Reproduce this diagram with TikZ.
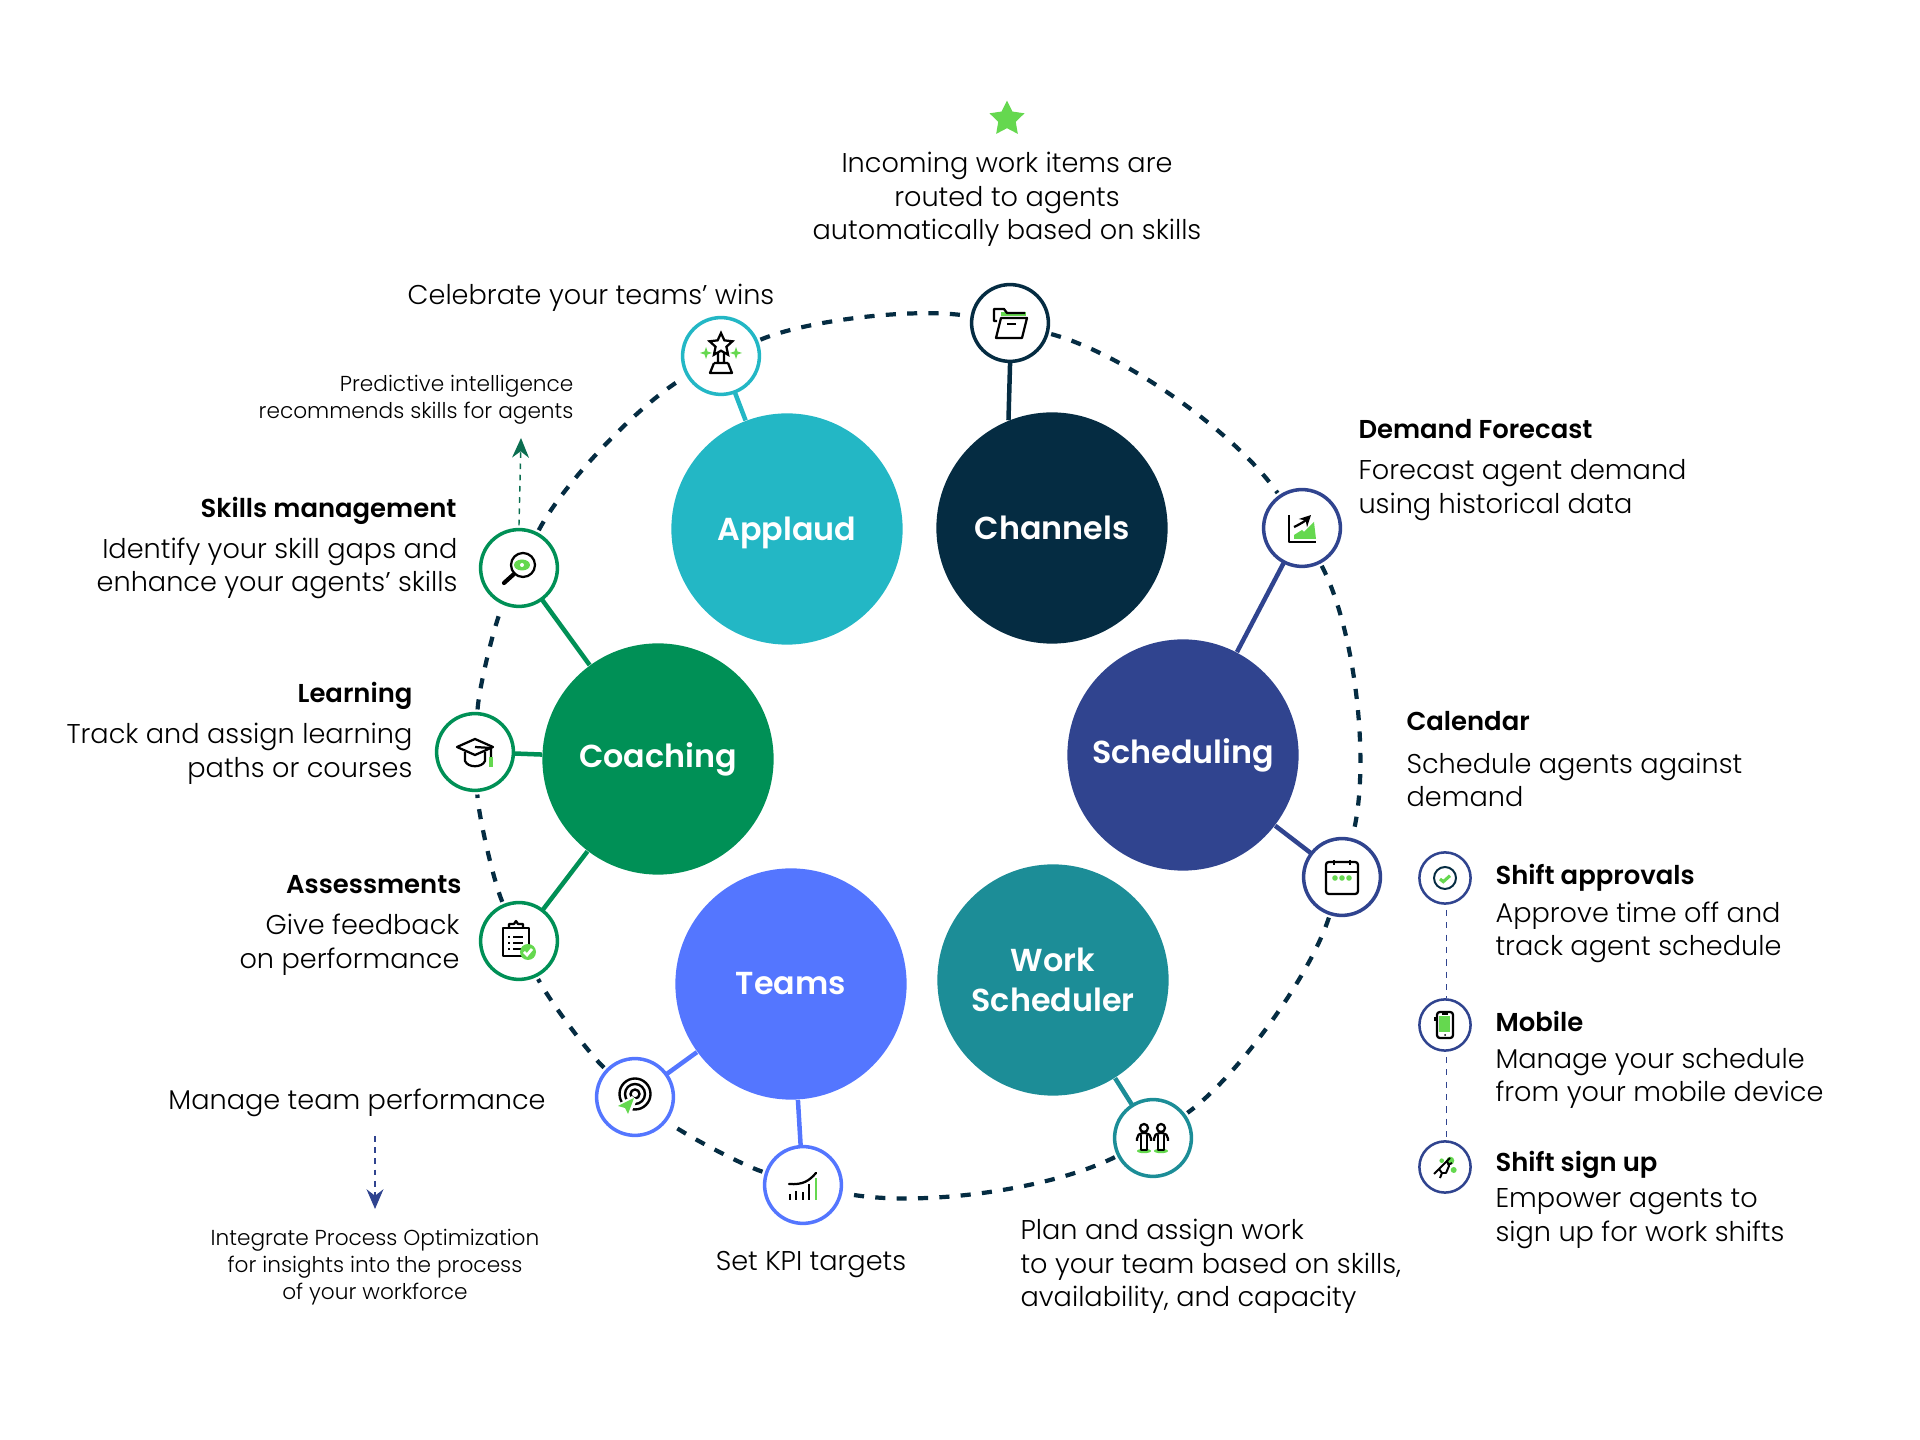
\documentclass[tikz,border=0pt]{standalone}
\usepackage{fontspec}
\setmainfont{Poppins Light}[BoldFont={Poppins SemiBold}]
\newfontfamily\headfont{Poppins SemiBold}
\usetikzlibrary{arrows.meta,shapes.geometric}
\definecolor{navyc}{HTML}{052C42}
\definecolor{tealc}{HTML}{23B7C5}
\definecolor{schedc}{HTML}{30448F}
\definecolor{workc}{HTML}{1C8D97}
\definecolor{teamc}{HTML}{5476FF}
\definecolor{coachc}{HTML}{009056}
\definecolor{leafc}{HTML}{65D84F}
\definecolor{arrowc}{HTML}{0B6E50}
\begin{document}
\begin{tikzpicture}[
    x=.0125cm, y=-.0125cm,
    hub/.style={circle, fill=#1, minimum size=2.89cm, inner sep=0pt, text=white, align=center,
        font=\headfont\fontsize{11.3}{14.3}\selectfont},
    spot/.style={circle, draw=#1, line width=1.25pt, fill=white, minimum size=.96cm, inner sep=0pt, outer sep=1.5pt},
    tiny/.style={circle, draw=schedc, line width=.9pt, fill=white, minimum size=.64cm, inner sep=0pt},
    spoke/.style={draw=#1, line width=1.6pt, shorten >=-1.5pt},
    ringdash/.style={draw=navyc, line width=1.5pt, dash pattern=on 3.6pt off 4pt},
    tinydash/.style={draw=schedc, line width=.55pt, dash pattern=on 2.2pt off 2.2pt},
    body/.style={font=\fontsize{9.65}{11.9}\selectfont, inner sep=0pt},
    small/.style={font=\fontsize{7.7}{9.55}\selectfont, inner sep=0pt},
    head/.style={font=\bfseries\fontsize{9.2}{11.9}\selectfont, inner sep=0pt},
    ink/.style={draw=black, line width=.8pt, line join=round},
    leaf/.style={fill=leafc, draw=none},
    icon/.style={shift={(#1)}}
]
\useasboundingbox (0,0) rectangle (1920,1440);

% Large circles
\node[hub=tealc, text depth=0pt] (applaud) at (787,529) {Applaud};
\node[hub=navyc] (channels) at (1052,528) {Channels};
\node[hub=schedc] (scheduling) at (1183,755) {Scheduling};
\node[hub=workc] (worksched) at (1053,980) {Work\\Scheduler};
\node[hub=teamc] (teams) at (791,984) {Teams};
\node[hub=coachc] (coaching) at (658,759) {Coaching};

% Ring nodes
\node[spot=navyc] (nchan) at (1010,323) {};
\node[spot=schedc] (nfore) at (1302,528) {};
\node[spot=schedc] (ncal) at (1342,877) {};
\node[spot=workc] (nwork) at (1153,1138) {};
\node[spot=teamc] (nkpi) at (803,1185) {};
\node[spot=teamc] (nteam) at (635,1097) {};
\node[spot=coachc] (nass) at (519,941) {};
\node[spot=coachc] (nlearn) at (475,752) {};
\node[spot=coachc] (nskill) at (519,568) {};
\node[spot=tealc] (nceleb) at (721,356) {};

% Legend nodes
\node[tiny] (nappr) at (1445,878) {};
\node[tiny] (nmob) at (1445,1025) {};
\node[tiny] (nsign) at (1445,1167) {};

% Ring
\draw[ringdash] (nchan) to[bend left=20, looseness=.69] (nfore);
\draw[ringdash] (nfore) to[bend left=21, looseness=.69] (ncal);
\draw[ringdash] (ncal) to[bend left=18, looseness=.66] (nwork);
\draw[ringdash] (nwork) to[bend left=19, looseness=.69] (nkpi);
\draw[ringdash] (nkpi) to[bend left=9.5, looseness=.5] (nteam);
\draw[ringdash] (nteam) to[bend left=10, looseness=.5] (nass);
\draw[ringdash] (nass) to[bend left=10, looseness=.5] (nlearn);
\draw[ringdash] (nlearn) to[bend left=10, looseness=.5] (nskill);
\draw[ringdash] (nskill) to[bend left=16, looseness=.64] (nceleb);
\draw[ringdash] (nceleb) to[bend left=16, looseness=.64] (nchan);

% Spokes
\draw[spoke=tealc] (applaud) -- (nceleb);
\draw[spoke=navyc] (channels.112) -- (nchan.south);
\draw[spoke=schedc] (scheduling) -- (nfore);
\draw[spoke=schedc] (scheduling) -- (ncal);
\draw[spoke=workc] (worksched) -- (nwork);
\draw[spoke=teamc] (teams) -- (nkpi);
\draw[spoke=teamc] (teams) -- (nteam);
\draw[spoke=coachc] (coaching) -- (nskill);
\draw[spoke=coachc] (coaching) -- (nlearn);
\draw[spoke=coachc] (coaching) -- (nass);

% Legend links
\draw[tinydash] ([xshift=.6pt]nappr.south) ++(0,5) -- ([xshift=.6pt]nmob.north);
\draw[tinydash] ([xshift=.6pt]nmob.south) ++(0,5) -- ([xshift=.6pt]nsign.north);

% Side arrows
\coordinate (upend) at (521,438);
\coordinate (downstart) at (375,1136);
\coordinate (downend) at (375,1209);
\draw[arrowc, line width=.5pt, dash pattern=on 2pt off 2pt, -{Stealth[length=7pt,width=6pt]}] (nskill.north) -- (upend);
\draw[schedc, line width=.5pt, dash pattern=on 2pt off 2pt, -{Stealth[length=7pt,width=6pt]}] (downstart) -- (downend);

% Star and texts
\node[star, star points=5, star point ratio=2, fill=leafc, minimum size=.46cm, inner sep=0pt] (topstar) at (1007,119) {};
\node[body, align=center] (tchan) at (1007,199.5) {Incoming work items are\\routed to agents\\automatically based on skills};
\node[body] (tceleb) at (591,297.5) {Celebrate your teams’ wins};
\node[small, align=right, anchor=east] (tpred) at (574,399.5) {Predictive intelligence\\recommends skills for agents};
\node[head, anchor=east] (hskill) at (457,511) {Skills management};
\node[body, align=right, anchor=east] (tskill) at (458,568.5) {Identify your skill gaps and\\enhance your agents’ skills};
\node[head, anchor=east] (hlearn) at (413,696) {Learning};
\node[body, align=right, anchor=east] (tlearn) at (413,754) {Track and assign learning\\paths or courses};
\node[head, anchor=east] (hass) at (462,885) {Assessments};
\node[body, align=right, anchor=east] (tass) at (460,944.5) {Give feedback\\on performance};
\node[body] (tteam) at (357,1102.5) {Manage team performance};
\node[small, align=center] (tproc) at (375,1267.5) {Integrate Process Optimization\\for insights into the process\\of your workforce};
\node[body] (tkpi) at (811,1264.5) {Set KPI targets};
\node[body, align=left, anchor=west] (twork) at (1020,1266.5) {Plan and assign work\\to your team based on skills,\\availability, and capacity};
\node[head, anchor=west] (hfore) at (1358,429) {Demand Forecast};
\node[body, align=left, anchor=west] (tfore) at (1358,490) {Forecast agent demand\\using historical data};
\node[head, anchor=west] (hcal) at (1406,721) {Calendar};
\node[body, align=left, anchor=west] (tcal) at (1406,780) {Schedule agents against\\demand};
\node[head, anchor=west] (happr) at (1495,877.5) {Shift approvals};
\node[body, align=left, anchor=west] (tappr) at (1495,932.5) {Approve time off and\\track agent schedule};
\node[head, anchor=west] (hmob) at (1495,1021) {Mobile};
\node[body, align=left, anchor=west] (tmob) at (1495,1078.5) {Manage your schedule\\from your mobile device};
\node[head, anchor=west] (hsign) at (1495,1164.5) {Shift sign up};
\node[body, align=left, anchor=west] (tsign) at (1495,1218.5) {Empower agents to\\sign up for work shifts};

% Folder
\begin{scope}[icon=nchan]
\fill[leaf] (-9,-11) rectangle (16,-7);
\draw[ink] (-13,-2) -- (-16,-2) -- (-16,-14) -- (-6,-14) -- (-3,-10) -- (15,-10);
\draw[ink] (-14,15) -- (-9,-5) -- (17,-5) -- (12,15) -- cycle;
\draw[ink] (-3,1) -- (6,1);
\end{scope}

% Chart with arrow
\begin{scope}[icon=nfore]
\fill[leaf] (-8,11) -- (-8,7) -- (0,2) -- (2,4) -- (12,-6) -- (14,11) -- cycle;
\draw[ink] (-13,-13) -- (-13,14) -- (14,14);
\draw[ink, -{Stealth[length=4pt,width=4pt]}] (-8,-1) to[bend right=10] (9,-13);
\end{scope}

% Calendar
\begin{scope}[icon=ncal]
\draw[ink, rounded corners=1pt] (-16,-15) rectangle (16,17);
\draw[ink] (-16,-5) -- (16,-5) (-8,-17) -- (-8,-12) (8,-17) -- (8,-12);
\fill[leaf] (-7,1) circle[radius=2.8] (0,1) circle[radius=2.8] (7,1) circle[radius=2.8];
\end{scope}

% People
\begin{scope}[icon=nwork]
\fill[leaf] (-9,13) ellipse[x radius=7, y radius=2.2] (8,13) ellipse[x radius=7, y radius=2.2];
\foreach \px in {-9,8} {
  \draw[ink] (\px,-10) circle[radius=4];
  \draw[ink, rounded corners=2pt] (\px-7,3) -- (\px-7,-5) -- (\px+7,-5) -- (\px+7,3);
  \draw[ink] (\px-3,-3) -- (\px-3,12) -- (\px+3,12) -- (\px+3,-3);
}
\end{scope}

% Bars with curve
\begin{scope}[icon=nkpi]
\draw[ink] (-13,15) -- (-13,9) (-7,15) -- (-7,6) (0,15) -- (0,7) (6,15) -- (6,-1);
\fill[leaf] (11.5,-7) rectangle (14,15);
\draw[ink, line cap=round] (-14,-1) .. controls (0,0) and (6,-4) .. (13,-12);
\end{scope}

% Target
\begin{scope}[icon=nteam]
\draw[black, line width=.85pt] (0,-3) circle[radius=15.5] (0,-3) circle[radius=10] (0,-3) circle[radius=4.5];
\fill[white] (-3,-1) -- (-20,9) -- (-6,20) -- (2,3) -- cycle;
\fill[leaf] (-1,1) -- (-17,9) -- (-10,11) -- (-7,17) -- cycle;
\end{scope}

% Clipboard
\begin{scope}[icon=nass]
\draw[ink] (-16,-13) rectangle (10,15);
\draw[ink] (-10,-13) -- (-10,-17) -- (-5,-17) -- (-3,-20) -- (-1,-17) -- (4,-17) -- (4,-13);
\foreach \py in {-4,2,8} \draw[ink] (-11,\py) -- (-9,\py) (-6,\py) -- (4,\py);
\fill[leaf] (9,11) circle[radius=8];
\draw[white, line width=1pt] (5,11) -- (8,14) -- (13,8);
\end{scope}

% Graduation cap
\begin{scope}[icon=nlearn]
\draw[ink] (-18,-5) -- (0,-13) -- (18,-5) -- (0,3) -- cycle;
\draw[ink] (-10,0) -- (-10,9) .. controls (-7,16) and (7,16) .. (10,9) -- (10,0);
\draw[ink] (0,-5) -- (16,-4) -- (16,5);
\fill[leaf] (14,5) rectangle (18,15);
\end{scope}

% Magnifier
\begin{scope}[icon=nskill]
\fill[leaf] (3,-3) ellipse[x radius=8, y radius=5.5];
\fill[white] (3,-3) circle[radius=2];
\draw[ink] (4,-3) circle[radius=12];
\draw[ink, line width=1.5pt, line cap=round] (-5,6) -- (-15,15);
\end{scope}

% Trophy
\begin{scope}[icon=nceleb]
\node[star, star points=5, star point ratio=2.1, draw=black, line width=.8pt, minimum size=.3cm, inner sep=0pt] (tstar) at (0,-11) {};
\draw[ink] (-3,-3) -- (-3,7) (3,-3) -- (3,7) (-7,7) -- (7,7) (-7,7) -- (-11,17) -- (11,17) -- (7,7);
\fill[leaf] (-21,-3) -- ++(4.5,-1.5) -- ++(1.5,-4.5) -- ++(1.5,4.5) -- ++(4.5,1.5) -- ++(-4.5,1.5) -- ++(-1.5,4.5) -- ++(-1.5,-4.5) -- cycle;
\fill[leaf] (9,-3) -- ++(4.5,-1.5) -- ++(1.5,-4.5) -- ++(1.5,4.5) -- ++(4.5,1.5) -- ++(-4.5,1.5) -- ++(-1.5,4.5) -- ++(-1.5,-4.5) -- cycle;
\end{scope}

% Check
\begin{scope}[icon=nappr]
\draw[draw=navyc, line width=.7pt] (0,0) circle[radius=11];
\draw[leafc, line width=1.1pt] (-5,1) -- (-1.7,3.7) -- (5,-2.3);
\end{scope}

% Phone
\begin{scope}[icon=nmob]
\draw[ink, rounded corners=1pt] (-8,-13) rectangle (8,13);
\fill[leaf] (-6,-9) rectangle (5,7);
\fill[black] (0,10) circle[radius=1];
\draw[ink] (-3,-11) -- (3,-11) (-9.5,-8) -- (-9.5,-4);
\end{scope}

% Plug
\begin{scope}[icon=nsign]
\fill[leaf] (5.3,-6.3) circle[radius=4] (-3.3,-6.3) circle[radius=2.3] (8.7,3) circle[radius=3];
\draw[ink, line width=.7pt, fill=white] (-6,2) -- (2,-6) -- (4,-1) -- (1,6) -- (-3,6) -- cycle;
\draw[ink, line width=.7pt] (-6,2) -- (-11,7) (-3,6) -- (-5,11) (2,-6) -- (5,-9) (3,-2) -- (7,-4);
\end{scope}
\end{tikzpicture}
\end{document}
